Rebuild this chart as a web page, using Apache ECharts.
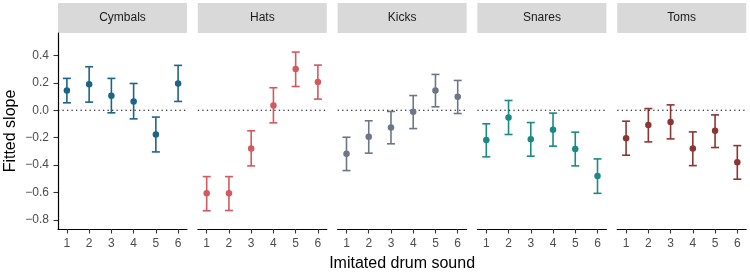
<!DOCTYPE html>
<html>
<head>
<meta charset="utf-8">
<script src="https://cdn.jsdelivr.net/npm/echarts@6/dist/echarts.min.js"></script>
<style>
  html, body { margin: 0; padding: 0; background: #fff; }
  #chart { width: 750px; height: 273px; }
</style>
</head>
<body>
<div id="chart"></div>
<script>
const panels = ['Cymbals', 'Hats', 'Kicks', 'Snares', 'Toms']
const sounds = [1, 2, 3, 4, 5, 6]
const yTicks = [-0.8, -0.6, -0.4, -0.2, 0, 0.2, 0.4]

// fitted slope per imitated sound, and its interval ends
const cymbalsFit = [0.144, 0.19, 0.105, 0.064, -0.177, 0.195]
const cymbalsLow = [0.054, 0.059, -0.019, -0.063, -0.304, 0.064]
const cymbalsHigh = [0.232, 0.317, 0.232, 0.195, -0.05, 0.327]

const hatsFit = [-0.606, -0.606, -0.28, 0.034, 0.3, 0.205]
const hatsLow = [-0.733, -0.731, -0.406, -0.092, 0.173, 0.081]
const hatsHigh = [-0.484, -0.484, -0.15, 0.164, 0.424, 0.329]

const kicksFit = [-0.318, -0.194, -0.126, -0.012, 0.144, 0.098]
const kicksLow = [-0.44, -0.313, -0.245, -0.134, 0.025, -0.024]
const kicksHigh = [-0.197, -0.077, -0.009, 0.107, 0.261, 0.217]

const snaresFit = [-0.218, -0.053, -0.211, -0.143, -0.282, -0.479]
const snaresLow = [-0.34, -0.177, -0.335, -0.262, -0.406, -0.606]
const snaresHigh = [-0.099, 0.071, -0.09, -0.021, -0.16, -0.355]

const tomsFit = [-0.204, -0.107, -0.085, -0.28, -0.15, -0.379]
const tomsLow = [-0.328, -0.231, -0.209, -0.404, -0.272, -0.503]
const tomsHigh = [-0.08, 0.012, 0.039, -0.158, -0.034, -0.258]

const fits = [cymbalsFit, hatsFit, kicksFit, snaresFit, tomsFit]
const lows = [cymbalsLow, hatsLow, kicksLow, snaresLow, tomsLow]
const highs = [cymbalsHigh, hatsHigh, kicksHigh, snaresHigh, tomsHigh]
const colors = ['#1d6489', '#d2595f', '#6d7687', '#1b8a85', '#8c3634']

const font = '"Liberation Sans", Arial, sans-serif'
const panelLeft = 58
const panelWidth = 129
const panelStep = 139.8
const panelTop = 33
const panelHeight = 196

const chart = echarts.init(document.getElementById('chart'))

const grids = []
const xAxes = []
const yAxes = []
const series = []
const strips = []

panels.forEach((name, i) => {
  const left = panelLeft + i * panelStep
  grids.push({ left, top: panelTop, width: panelWidth, height: panelHeight, outerBoundsMode: 'none', containLabel: false })

  xAxes.push({
    gridIndex: i,
    type: 'value',
    min: 0.6,
    max: 6.4,
    name: i === 2 ? 'Imitated drum sound' : '',
    nameLocation: 'middle',
    nameGap: 27,
    nameTextStyle: { fontFamily: font, fontSize: 16, color: '#000' },
    axisLine: { show: true, onZero: false, lineStyle: { color: '#000', width: 1.2 } },
    axisTick: { show: true, length: 4.5, customValues: sounds, lineStyle: { color: '#333', width: 1.1 } },
    axisLabel: { customValues: sounds, margin: 9, fontFamily: font, fontSize: 12, color: '#4d4d4d' },
    splitLine: { show: false },
  })

  yAxes.push({
    gridIndex: i,
    type: 'value',
    min: -0.866,
    max: 0.563,
    show: i === 0,
    name: i === 0 ? 'Fitted slope' : '',
    nameLocation: 'middle',
    nameGap: 39,
    nameTextStyle: { fontFamily: font, fontSize: 16, color: '#000' },
    axisLine: { show: true, lineStyle: { color: '#000', width: 1.2 } },
    axisTick: { show: true, length: 4.5, customValues: yTicks, lineStyle: { color: '#333', width: 1.1 } },
    axisLabel: {
      customValues: yTicks,
      margin: 9,
      fontFamily: font,
      fontSize: 12,
      color: '#4d4d4d',
      formatter: (v) => (v < 0 ? '\u2212' : '') + Math.abs(v).toFixed(1),
    },
    splitLine: { show: false },
  })

  // zero reference line
  series.push({
    type: 'line',
    xAxisIndex: i,
    yAxisIndex: i,
    data: [[0.6, 0], [6.4, 0]],
    symbol: 'none',
    silent: true,
    lineStyle: { color: '#000', width: 1.1, type: [1.3, 3.2] },
  })

  // error bars
  series.push({
    type: 'custom',
    xAxisIndex: i,
    yAxisIndex: i,
    data: sounds.map((s, k) => [s, lows[i][k], highs[i][k]]),
    renderItem: (params, api) => {
      const lo = api.coord([api.value(0), api.value(1)])
      const hi = api.coord([api.value(0), api.value(2)])
      const half = 4
      const style = { stroke: colors[i], lineWidth: 1.6 }
      return {
        type: 'group',
        children: [
          { type: 'line', shape: { x1: lo[0], y1: lo[1], x2: hi[0], y2: hi[1] }, style },
          { type: 'line', shape: { x1: hi[0] - half, y1: hi[1], x2: hi[0] + half, y2: hi[1] }, style },
          { type: 'line', shape: { x1: lo[0] - half, y1: lo[1], x2: lo[0] + half, y2: lo[1] }, style },
        ],
      }
    },
    encode: { x: 0, y: [1, 2] },
    z: 3,
  })

  // fitted points
  series.push({
    type: 'scatter',
    xAxisIndex: i,
    yAxisIndex: i,
    data: sounds.map((s, k) => [s, fits[i][k]]),
    symbolSize: 6.5,
    itemStyle: { color: colors[i], opacity: 1 },
    z: 4,
  })

  strips.push({
    type: 'group',
    left,
    top: 3,
    children: [
      { type: 'rect', shape: { x: 0, y: 0, width: panelWidth, height: 30 }, style: { fill: '#d9d9d9' } },
      {
        type: 'text',
        x: panelWidth / 2,
        y: 15,
        style: { text: name, fontFamily: font, fontSize: 12, fill: '#1a1a1a', align: 'center', verticalAlign: 'middle' },
      },
    ],
  })
})

chart.setOption({
  animation: false,
  grid: grids,
  xAxis: xAxes,
  yAxis: yAxes,
  series,
  graphic: strips,
})
</script>
</body>
</html>
